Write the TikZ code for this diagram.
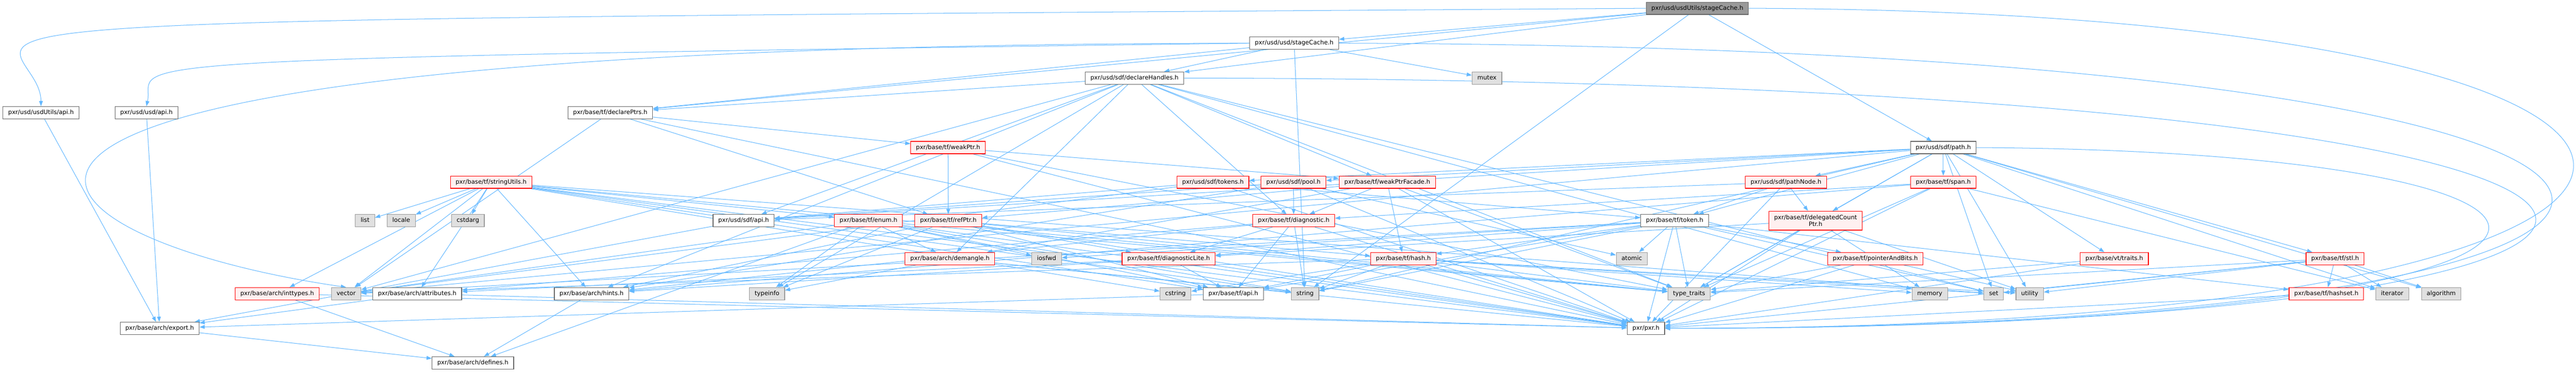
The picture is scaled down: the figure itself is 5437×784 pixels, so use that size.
\documentclass[tikz,border=0pt]{standalone}
\usepackage{fontspec}
\setmainfont{DejaVu Sans}
\usepackage{tikz}
\usepackage{xcolor}
\usetikzlibrary{
    arrows.meta,
    backgrounds
}
\definecolor{edgeblue}{HTML}{63B8FF}
\definecolor{truncfill}{HTML}{FFF0F0}
\definecolor{sysfill}{HTML}{E0E0E0}
\definecolor{sysline}{HTML}{999999}
\definecolor{hdrline}{HTML}{666666}
\definecolor{rootfill}{HTML}{999999}

\begin{document}
\begin{tikzpicture}[x=1pt, y=-1pt,
    font=\fontsize{12.7}{15}\selectfont,
    box/.style={draw, line width=1.3pt, inner xsep=11pt, inner ysep=0pt,
        minimum height=26pt, text height=9.6pt, text depth=2.8pt},
    hdr/.style={box, draw=hdrline, fill=white},
    trunc/.style={box, draw=red, fill=truncfill},
    sys/.style={box, draw=sysline, fill=sysfill},
    rootnode/.style={box, draw=hdrline, fill=rootfill},
    dep/.style={color=edgeblue, line width=1.1pt, -{Triangle[length=11pt, width=8pt]}}
]
    \useasboundingbox (0, 0) rectangle (5437, 784);
    % rows, top to bottom
    \node[rootnode] (root) at (3582.5, 17.5) {pxr/usd/usdUtils/stageCache.h};
    \node[hdr] (ustage) at (2731.5, 91) {pxr/usd/usd/stageCache.h};
    \node[hdr] (sdfdh) at (2394.5, 164.5) {pxr/usd/sdf/declareHandles.h};
    \node[sys] (mutex) at (3138.5, 164.5) {mutex};
    \node[hdr] (uapi) at (86.5, 237.5) {pxr/usd/usdUtils/api.h};
    \node[hdr] (usdapi) at (309, 237.5) {pxr/usd/usd/api.h};
    \node[hdr] (tfdp) at (1288, 237.5) {pxr/base/tf/declarePtrs.h};
    \node[trunc] (tfwp) at (2001, 311) {pxr/base/tf/weakPtr.h};
    \node[hdr] (sdfpath) at (4101.5, 311) {pxr/usd/sdf/path.h};
    \node[trunc] (tfsu) at (1036.5, 384) {pxr/base/tf/stringUtils.h};
    \node[trunc] (sdftok) at (2560, 384) {pxr/usd/sdf/tokens.h};
    \node[trunc] (sdfpool) at (2730, 384) {pxr/usd/sdf/pool.h};
    \node[trunc] (tfwpf) at (2928, 384) {pxr/base/tf/weakPtrFacade.h};
    \node[trunc] (sdfpn) at (3769.5, 384) {pxr/usd/sdf/pathNode.h};
    \node[trunc] (tfspan) at (4101.5, 384) {pxr/base/tf/span.h};
    \node[sys] (list) at (770.5, 465) {list};
    \node[sys] (locale) at (847, 465) {locale};
    \node[sys] (cstdarg) at (987.5, 465) {cstdarg};
    \node[hdr] (sdfapi) at (1569.5, 465) {pxr/usd/sdf/api.h};
    \node[trunc] (tfenum) at (1833, 465) {pxr/base/tf/enum.h};
    \node[trunc] (tfrp) at (2001.5, 465) {pxr/base/tf/refPtr.h};
    \node[trunc] (tfdiag) at (2730.5, 465) {pxr/base/tf/diagnostic.h};
    \node[hdr] (tftoken) at (3534.5, 465) {pxr/base/tf/token.h};
    \node[trunc, align=center, minimum height=40pt, text height=, text depth=] (tfdcp)
        at (3832, 465) {pxr/base/tf/delegatedCount\\Ptr.h};
    \node[trunc] (archdm) at (2005, 545) {pxr/base/arch/demangle.h};
    \node[sys] (iosfwd) at (2209, 545) {iosfwd};
    \node[trunc] (tfdl) at (2466.5, 545) {pxr/base/tf/diagnosticLite.h};
    \node[trunc] (tfhash) at (2962, 545) {pxr/base/tf/hash.h};
    \node[sys] (atomic) at (3444, 545) {atomic};
    \node[trunc] (tfpab) at (3958, 545) {pxr/base/tf/pointerAndBits.h};
    \node[trunc] (vttraits) at (4462.5, 545) {pxr/base/vt/traits.h};
    \node[trunc] (tfstl) at (4928.5, 545) {pxr/base/tf/stl.h};
    \node[trunc] (archit) at (585, 619) {pxr/base/arch/inttypes.h};
    \node[sys] (vector) at (730.5, 619) {vector};
    \node[hdr] (archattr) at (880.5, 619) {pxr/base/arch/attributes.h};
    \node[hdr] (archhints) at (1248.5, 619) {pxr/base/arch/hints.h};
    \node[sys] (typeinfo) at (1619, 619) {typeinfo};
    \node[sys] (cstring) at (2481, 619) {cstring};
    \node[hdr] (tfapi) at (2603, 619) {pxr/base/tf/api.h};
    \node[sys] (string) at (2754.5, 619) {string};
    \node[sys] (typetraits) at (3565, 619) {type\_traits};
    \node[sys] (memory) at (4073, 619) {memory};
    \node[sys] (set) at (4208, 619) {set};
    \node[sys] (utility) at (4284, 619) {utility};
    \node[trunc] (tfhs) at (4910, 619) {pxr/base/tf/hashset.h};
    \node[sys] (iterator) at (5049, 619) {iterator};
    \node[sys] (algorithm) at (5152.5, 619) {algorithm};
    \node[hdr] (archexp) at (337, 692) {pxr/base/arch/export.h};
    \node[hdr] (pxr) at (3474, 692) {pxr/pxr.h};
    \node[hdr] (archdef) at (998, 765) {pxr/base/arch/defines.h};

    \begin{pgfonlayer}{background}
        \fill[white] (0, 0) rectangle (5437, 784);
        % long ones routed round the sides
        \draw[dep] (root.west) .. controls (-600, 45) and (86, 40) .. (uapi.north);
        \draw[dep] (ustage.west) .. controls (100, 125) and (330, 130) .. (usdapi.north);
        \draw[dep] (ustage.west) .. controls (-500, 95) and (0, 500) .. (vector.north);
        \draw[dep] (root.east) .. controls (6039, 25) and (6039, 692) .. (pxr.east);
        \draw[dep] (ustage.east) .. controls (6113, 100) and (6113, 692) .. (pxr.east);
        \draw[dep] (sdfdh.east) .. controls (6111, 170) and (6111, 692) .. (pxr.east);
        \draw[dep] (sdfpath.east) .. controls (5707, 320) and (5707, 692) .. (pxr.east);
        \draw[dep]
        (root) edge (ustage) edge (sdfdh) edge (tfdp) edge (sdfpath) edge (string)
        (ustage) edge (sdfdh) edge (tfdp) edge (mutex) edge (string)
        (sdfdh) edge (sdfapi) edge (archdm) edge (archhints) edge (tfdiag) edge (tfwpf)
            edge (tfdp) edge (set) edge (typeinfo) edge (typetraits) edge (vector) edge (memory)
        (tfdp) edge (tfwp) edge (tfrp) edge (vector) edge (pxr)
        (tfwp) edge (tfrp) edge (tfwpf) edge (typetraits) edge (pxr)
        (tfwpf) edge (tfrp) edge (tfhash) edge (archdm) edge (tfdiag) edge (typetraits) edge (pxr)
        (tfrp) edge (archhints) edge (tfapi) edge (tfdl) edge (typeinfo) edge (typetraits)
            edge (tfhash) edge (pxr)
        (tfsu) edge (archattr) edge (archit) edge (tfapi) edge (tfenum) edge (cstdarg)
            edge (cstring) edge (list) edge (locale) edge (set) edge (string)
            edge (typetraits) edge (vector) edge (archhints) edge (pxr)
        (tfenum) edge (archdef) edge (archdm) edge (tfapi) edge (iosfwd) edge (string)
            edge (typeinfo) edge (typetraits) edge (vector) edge (pxr)
        (archdm) edge (string) edge (typeinfo) edge (pxr)
        (tfdl) edge (archattr) edge (archhints) edge (tfapi) edge (pxr)
        (tfdiag) edge (archhints) edge (tfapi) edge (tfdl) edge (string) edge (archattr) edge (pxr)
        (tfhash) edge (tfapi) edge (cstring) edge (string) edge (memory) edge (set)
            edge (utility) edge (vector) edge (typetraits) edge (pxr)
        (sdftok) edge (sdfapi) edge (tftoken) edge (vector) edge (pxr)
        (sdfpool) edge (sdfapi) edge (tfdiag) edge (archhints) edge (atomic) edge (pxr)
        (tftoken) edge (tfapi) edge (tfdl) edge (tfhash) edge (tfpab) edge (tfhs) edge (atomic)
            edge (iosfwd) edge (string) edge (set) edge (vector) edge (typetraits) edge (pxr)
        (sdfpath) edge (sdfapi) edge (sdfpool) edge (sdftok) edge (sdfpn) edge (tfspan)
            edge (tfdcp) edge (tfstl) edge (tftoken) edge (vttraits) edge (iterator)
            edge (set) edge (string) edge (utility) edge (vector) edge (algorithm) edge (typetraits)
        (sdfpn) edge (sdfapi) edge (tfdcp) edge (tftoken) edge (pxr)
        (tfspan) edge (archhints) edge (tfdiag) edge (iterator) edge (typetraits) edge (pxr)
        (tfdcp) edge (tfdl) edge (memory) edge (typetraits) edge (utility) edge (pxr)
        (tfpab) edge (typetraits) edge (utility) edge (pxr)
        (vttraits) edge (typetraits) edge (pxr)
        (tfstl) edge (tfhs) edge (iterator) edge (algorithm) edge (set) edge (utility)
            edge (typetraits) edge (pxr)
        (tfhs) edge (pxr)
        (uapi) edge (archexp)
        (usdapi) edge (archexp)
        (sdfapi) edge (archexp)
        (tfapi) edge (archexp)
        (archattr) edge (archexp) edge (pxr)
        (archhints) edge (archdef)
        (archit) edge (archdef) edge (pxr)
        (archexp) edge (archdef);
    \end{pgfonlayer}
\end{tikzpicture}
\end{document}
